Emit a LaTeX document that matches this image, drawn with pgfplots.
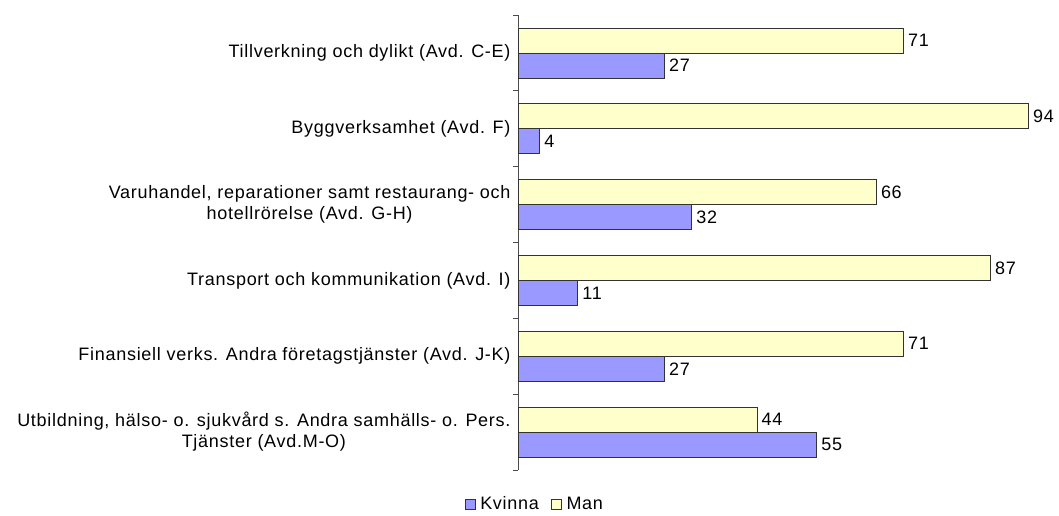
\documentclass[border=0pt]{standalone}
\usepackage{pgfplots}
\pgfplotsset{compat=1.18}
\usepackage{fontspec}
\setmainfont{Liberation Sans}[LetterSpace=4]
\definecolor{kvinna}{RGB}{153,153,255}
\definecolor{man}{RGB}{255,255,204}
\newcommand{\chartfont}{\fontsize{18}{21}\selectfont}
\begin{document}
\begin{tikzpicture}
\useasboundingbox (0,0) rectangle (1059pt,515pt);
\begin{axis}[
  at={(518pt,45pt)}, anchor=south west,
  scale only axis, width=543pt, height=455pt,
  xmin=0, xmax=100, ymin=-0.5, ymax=5.5,
  y dir=reverse,
  xbar, bar width=0.33,
  /pgf/number format/assume math mode=true,
  axis x line=none, axis y line*=left,
  y axis line style={-, line width=0.8pt, draw=black!70},
  ytick={0,1,2,3,4,5},
  yticklabels={{Tillverkning och dylikt (Avd. C-E)},{Byggverksamhet (Avd. F)},{Varuhandel, reparationer samt restaurang- och\\hotellrörelse (Avd. G-H)},{Transport och kommunikation (Avd. I)},{Finansiell verks. Andra företagstjänster (Avd. J-K)},{Utbildning, hälso- o. sjukvård s. Andra samhälls- o. Pers.\\Tjänster (Avd.M-O)}},
  yticklabel style={align=center, font=\chartfont, xshift=-4pt},
  minor ytick={-0.5,0.5,1.5,2.5,3.5,4.5,5.5},
  major tick length=0pt, minor tick length=5pt,
  tick align=outside, tick style={line width=0.8pt, draw=black!70},
  nodes near coords, nodes near coords style={font=\chartfont, anchor=west, xshift=1pt},
  every axis plot/.append style={draw=black!80, line width=0.6pt},
  legend style={at={(0.031,-0.074)}, anchor=center, draw=none, legend columns=2, font=\chartfont,
    /tikz/every odd column/.append style={column sep=3pt},
    /tikz/every even column/.append style={column sep=10pt}},
  legend image code/.code={\draw[#1, draw=black!80, line width=0.6pt] (0pt,-6pt) rectangle (10pt,4pt);},
  clip=false,
]
\addplot[fill=kvinna, bar shift=0.165] coordinates {(27,0) (4,1) (32,2) (11,3) (27,4) (55,5)};
\addlegendentry{Kvinna}
\addplot[fill=man, bar shift=-0.165] coordinates {(71,0) (94,1) (66,2) (87,3) (71,4) (44,5)};
\addlegendentry{Man}
\end{axis}
\end{tikzpicture}
\end{document}
